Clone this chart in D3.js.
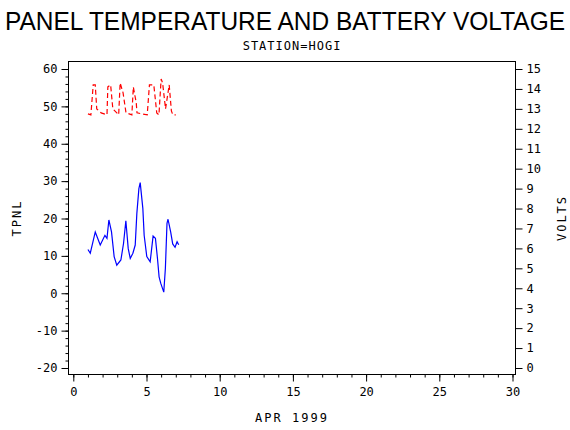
<!DOCTYPE html><html><head><script src="https://cdn.jsdelivr.net/npm/d3@7"></script>
<style>body{margin:0;background:#fff}</style></head><body>
<svg id="c" width="570" height="430" style="font-family:'DejaVu Sans Mono',monospace"></svg>
<script>
const tempDays=[1.0,1.16,1.5,1.84,2.16,2.3,2.43,2.61,2.79,2.97,3.25,3.43,3.59,3.75,3.89,4.07,4.23,4.34,4.48,4.57,4.75,4.84,5.02,5.25,5.45,5.61,5.75,5.86,5.97,6.18,6.29,6.4,6.47,6.65,6.79,6.95,7.09,7.2];
const tempVals=[11.7,10.7,16.4,12.9,15.5,14.7,19.6,16.4,9.8,7.5,8.9,13.3,19.4,12,9.3,10.7,12.9,21.3,28,29.6,22.7,15.5,9.8,8.4,15.3,14.7,9.3,4.4,2.7,0.3,6.7,18.7,19.8,16.4,13.2,12.3,13.8,13];
const voltDays=[1.0,1.2,1.36,1.5,1.6,1.9,2.3,2.36,2.55,2.7,3.1,3.2,3.4,3.6,4.0,4.1,4.3,4.35,5.05,5.2,5.5,5.7,5.85,6.0,6.1,6.3,6.55,6.7,6.8,7.0];
const voltVals=[12.75,12.7,14.2,14.2,13.0,12.8,12.7,14.1,14.2,13.0,12.7,14.3,13.8,12.8,12.7,14.1,13.3,12.8,12.7,14.2,14.2,12.8,12.7,14.5,14.3,13.0,14.2,12.9,12.7,12.7];
const xTicks=[0,5,10,15,20,25,30], yTicks=[-20,-10,0,10,20,30,40,50,60], vTicks=d3.range(0,16);
const svg=d3.select("#c");
const x=d3.scaleLinear().domain([0,30]).range([73.3,512.5]);
const y=d3.scaleLinear().domain([-20,60]).range([368,69]);
const v=d3.scaleLinear().domain([0,15]).range([368,69]);
const L=68.5,R=515.5,T=61.5,B=374.5;
svg.append("rect").attr("x",L).attr("y",T).attr("width",R-L).attr("height",B-T).attr("fill","none").attr("stroke","#000");
const xa=svg.append("g").attr("transform",`translate(0,${B})`);
xa.call(d3.axisBottom(x).tickValues(d3.range(0,31)).tickSize(3).tickFormat(""));
xa.call(g=>g.select(".domain").remove());
svg.append("g").attr("transform",`translate(0,${B})`).call(d3.axisBottom(x).tickValues(xTicks).tickSize(7).tickPadding(6)).select(".domain").remove();
svg.append("g").attr("transform",`translate(${L},0)`).call(d3.axisLeft(y).tickValues(d3.range(-20,61,2)).tickSize(3).tickFormat("")).select(".domain").remove();
svg.append("g").attr("transform",`translate(${L},0)`).call(d3.axisLeft(y).tickValues(yTicks).tickSize(7).tickPadding(4)).select(".domain").remove();
svg.append("g").attr("transform",`translate(${R},0)`).call(d3.axisRight(v).tickValues(vTicks).tickSize(7).tickPadding(4)).select(".domain").remove();
svg.selectAll(".tick text").style("font-size","12px").style("font-family","'DejaVu Sans Mono',monospace").attr("fill","#000")
  .text(function(){return this.textContent.replace("−","-");});
svg.append("path").datum(tempDays.map((d,i)=>[d,tempVals[i]])).attr("fill","none").attr("stroke","#00f").attr("stroke-width",1.2)
 .attr("d",d3.line().x(d=>x(d[0])).y(d=>y(d[1])));
svg.append("path").datum(voltDays.map((d,i)=>[d,voltVals[i]])).attr("fill","none").attr("stroke","#f00").attr("stroke-width",1.2).attr("stroke-dasharray","5,3")
 .attr("d",d3.line().x(d=>x(d[0])).y(d=>v(d[1])));
svg.append("text").attr("x",285).attr("y",30).attr("text-anchor","middle").style("font-size","26px").style("font-family","'Liberation Sans',Arial,sans-serif").attr("textLength",560).attr("lengthAdjust","spacingAndGlyphs").text("PANEL TEMPERATURE AND BATTERY VOLTAGE");
const lab=(t,tr,ls)=>svg.append("text").attr("transform",tr).attr("text-anchor","middle").style("font-size","12px").attr("letter-spacing",ls).text(t);
lab("STATION=HOGI","translate(292,50)","1px");
lab("APR 1999","translate(292,422)","2px");
lab("TPNL","translate(21,218) rotate(-90)","2px");
lab("VOLTS","translate(566,218) rotate(-90)","2px");
</script></body></html>
